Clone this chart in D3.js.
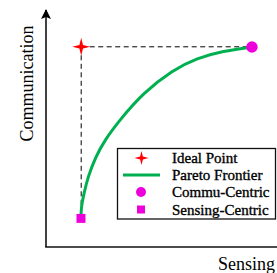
<!DOCTYPE html>
<html><head><meta charset="utf-8">
<script src="https://cdn.jsdelivr.net/npm/d3@7"></script>
<style>body{margin:0;background:#fff}svg{display:block}</style>
</head><body>
<script>
const xLabel = "Sensing";
const yLabel = "Communication";
const idealPoint = [1.6, 9.1];
const commuCentric = [9.36, 9.09];
const sensingCentric = [1.59, 1.3];
const paretoX = [1.59, 1.6, 1.73, 1.91, 2.25, 2.67, 3.35, 4.41, 5.77, 6.86, 8.05, 9.36];
const paretoY = [1.3, 1.83, 2.45, 3.2, 4.08, 4.86, 5.77, 7.0, 8.05, 8.59, 8.91, 9.09];
const legendLabels = ["Ideal Point", "Pareto Frontier", "Commu-Centric", "Sensing-Centric"];

const W = 277, H = 273;
const svg = d3.select("body").append("svg").attr("width", W).attr("height", H);
const x = d3.scaleLinear().domain([0, 10]).range([46, 266]);
const y = d3.scaleLinear().domain([0, 10]).range([247, 27]);
const green = "#00b050", magenta = "#ee00dd", red = "#ff0000";
const font = "'Liberation Serif', 'Times New Roman', serif";

svg.append("defs").append("marker").attr("id", "arr").attr("viewBox", "0 0 10 10")
  .attr("refX", 9).attr("refY", 5).attr("markerWidth", 10).attr("markerHeight", 13)
  .attr("markerUnits", "userSpaceOnUse").attr("orient", "auto")
  .append("path").attr("d", "M0,0 L10,5 L0,10 L2,5 Z").attr("fill", "#000");

// axes
svg.append("line").attr("x1", x(0)).attr("y1", y(0)).attr("x2", x(0)).attr("y2", 10)
  .attr("stroke", "#111").attr("stroke-width", 1.6).attr("marker-end", "url(#arr)");
svg.append("line").attr("x1", x(0) - 0.8).attr("y1", y(0)).attr("x2", W + 20).attr("y2", y(0))
  .attr("stroke", "#111").attr("stroke-width", 1.6);

svg.append("text").attr("transform", `translate(33,${83.5}) rotate(-90)`)
  .attr("text-anchor", "middle").attr("font-family", font).attr("font-size", 18).text(yLabel);
svg.append("text").attr("x", 218).attr("y", 270).attr("font-family", font).attr("font-size", 18).text(xLabel);

// dashed guides
svg.append("line").attr("x1", x(idealPoint[0])).attr("y1", y(idealPoint[1]))
  .attr("x2", x(commuCentric[0])).attr("y2", y(idealPoint[1]))
  .attr("stroke", "#000").attr("stroke-width", 1).attr("stroke-dasharray", "5,3.5");
svg.append("line").attr("x1", x(idealPoint[0])).attr("y1", y(idealPoint[1]))
  .attr("x2", x(idealPoint[0])).attr("y2", y(sensingCentric[1]))
  .attr("stroke", "#000").attr("stroke-width", 1).attr("stroke-dasharray", "5,3.5");

// pareto curve
const pts = paretoX.map((v, i) => [v, paretoY[i]]);
svg.append("path").datum(pts)
  .attr("d", d3.line().x(d => x(d[0])).y(d => y(d[1])).curve(d3.curveBasis))
  .attr("fill", "none").attr("stroke", green).attr("stroke-width", 3);

function star(cx, cy, r) {
  const ri = r * 0.28;
  let p = [];
  for (let i = 0; i < 8; i++) {
    const a = -Math.PI / 2 + i * Math.PI / 4;
    const rr = i % 2 === 0 ? r : ri;
    p.push([cx + rr * Math.cos(a), cy + rr * Math.sin(a)]);
  }
  return "M" + p.map(q => q.join(",")).join("L") + "Z";
}

svg.append("path").attr("d", star(x(idealPoint[0]), y(idealPoint[1]), 9)).attr("fill", red);
svg.append("circle").attr("cx", x(commuCentric[0])).attr("cy", y(commuCentric[1])).attr("r", 5.8).attr("fill", magenta);
svg.append("rect").attr("x", x(sensingCentric[0]) - 4.5).attr("y", y(sensingCentric[1]) - 4.5)
  .attr("width", 9).attr("height", 9).attr("fill", magenta);

// legend
const lg = svg.append("g");
lg.append("rect").attr("x", 117.5).attr("y", 148.5).attr("width", 158).attr("height", 70.5)
  .attr("fill", "#fff").attr("stroke", "#111").attr("stroke-width", 1.3);
const rowY = [158, 175, 192, 209.5];
lg.append("path").attr("d", star(141.5, rowY[0], 7)).attr("fill", red);
lg.append("line").attr("x1", 123).attr("x2", 160).attr("y1", rowY[1]).attr("y2", rowY[1])
  .attr("stroke", green).attr("stroke-width", 3);
lg.append("circle").attr("cx", 141).attr("cy", rowY[2]).attr("r", 5).attr("fill", magenta);
lg.append("rect").attr("x", 137).attr("y", rowY[3] - 4).attr("width", 8).attr("height", 8).attr("fill", magenta);
legendLabels.forEach((t, i) => {
  lg.append("text").attr("x", 172).attr("y", rowY[i] + 5).attr("font-family", font)
    .attr("font-size", 15).attr("stroke", "#000").attr("stroke-width", 0.35).text(t);
});
</script>
</body></html>
